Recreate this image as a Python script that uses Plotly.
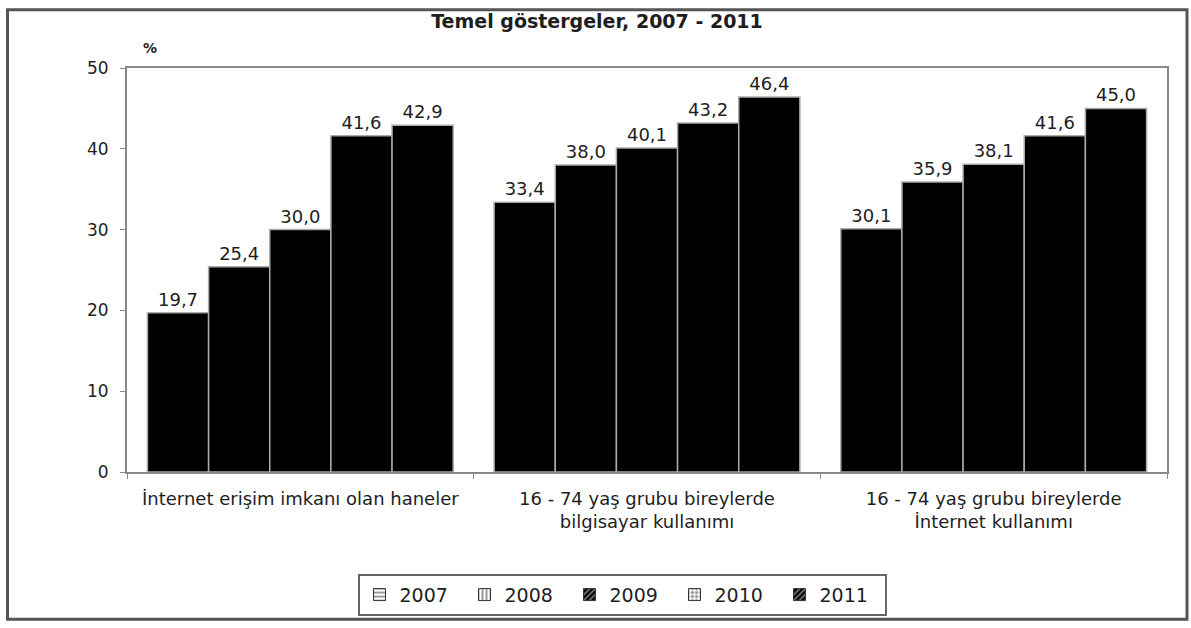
import plotly.graph_objects as go

categories = [
    "İnternet erişim imkanı olan haneler",
    "16 - 74 yaş grubu bireylerde<br>bilgisayar kullanımı",
    "16 - 74 yaş grubu bireylerde<br>İnternet kullanımı",
]
years = ["2007", "2008", "2009", "2010", "2011"]
v2007 = [19.7, 33.4, 30.1]
v2008 = [25.4, 38.0, 35.9]
v2009 = [30.0, 40.1, 38.1]
v2010 = [41.6, 43.2, 41.6]
v2011 = [42.9, 46.4, 45.0]
series = [v2007, v2008, v2009, v2010, v2011]
y_ticks = [0, 10, 20, 30, 40, 50]

legend_patterns = [
    ("-", "white", "black"),
    ("|", "white", "black"),
    ("/", "black", "white"),
    (".", "white", "black"),
    ("/", "black", "white"),
]

FONT = "DejaVu Sans, Liberation Sans, Arial, sans-serif"
TXT = "#1e1e1e"

fig = go.Figure()
for yr, vals in zip(years, series):
    fig.add_trace(go.Bar(
        x=categories, y=vals, name=yr, showlegend=False,
        marker=dict(color="black", line=dict(color="#aaaaaa", width=1.5)),
        text=[f"{v:.1f}".replace(".", ",") for v in vals],
        textposition="outside", cliponaxis=False,
        textfont=dict(size=18, color=TXT, family=FONT),
    ))
# legend swatches (separate hidden subplot so they don't take bar slots)
for yr, (shape, bg, fg) in zip(years, legend_patterns):
    fig.add_trace(go.Bar(
        x=[None], y=[None], name=yr, showlegend=True, xaxis="x2", yaxis="y2",
        marker=dict(color=bg, line=dict(color="#333333", width=1),
                    pattern=dict(shape=shape, bgcolor=bg, fgcolor=fg, size=5, solidity=0.4)),
    ))

W, H = 1191, 628
L, R, T, B = 127, 1167, 68, 477
pw, ph = R - L, B - T

def px2x(p):
    return (p - L) / pw

def py2y(p):
    return (B - p) / ph

fig.update_layout(
    width=W, height=H,
    margin=dict(l=L, r=W - R, t=T, b=H - B),
    paper_bgcolor="white", plot_bgcolor="white",
    barmode="group", bargap=0.118, bargroupgap=0,
    font=dict(family=FONT, color=TXT, size=17),
    title=dict(text="<b>Temel göstergeler, 2007 - 2011</b>", x=597 / W, xanchor="center",
               y=1 - 21 / H, yanchor="middle", yref="container",
               font=dict(size=19, color=TXT, family=FONT)),
    xaxis=dict(showline=True, linecolor="#888888", linewidth=2, mirror=True,
               ticks="outside", tickson="boundaries", ticklen=5, tickcolor="#888888",
               tickfont=dict(size=18, color=TXT), showgrid=False, ticklabelstandoff=9),
    yaxis=dict(range=[0, 50], tickvals=y_ticks, showline=True, linecolor="#888888",
               linewidth=2, mirror=True, ticks="outside", ticklen=5, tickcolor="#888888",
               tickfont=dict(size=17, color=TXT), showgrid=False, zeroline=False,
               ticklabelstandoff=8),
    xaxis2=dict(overlaying="x", visible=False),
    yaxis2=dict(overlaying="y", visible=False),
    legend=dict(orientation="h", x=px2x(622), xanchor="center", y=py2y(580), yanchor="top",
                bordercolor="#666666", borderwidth=2, bgcolor="white",
                font=dict(size=19, color=TXT, family=FONT),
                entrywidth=60, entrywidthmode="pixels", traceorder="normal"),
    shapes=[dict(type="rect", xref="paper", yref="paper",
                 x0=px2x(7.5), x1=px2x(1187), y0=py2y(626), y1=py2y(9),
                 line=dict(color="#555555", width=3), layer="below")],
    annotations=[dict(text="<b>%</b>", xref="paper", yref="paper", x=px2x(141), y=py2y(38),
                      showarrow=False, font=dict(size=14, color=TXT, family=FONT))],
)

fig.write_html(
    "out.html",
    config={"displayModeBar": False},
    post_script="document.body.style.margin='0';document.body.style.overflow='hidden';",
)
